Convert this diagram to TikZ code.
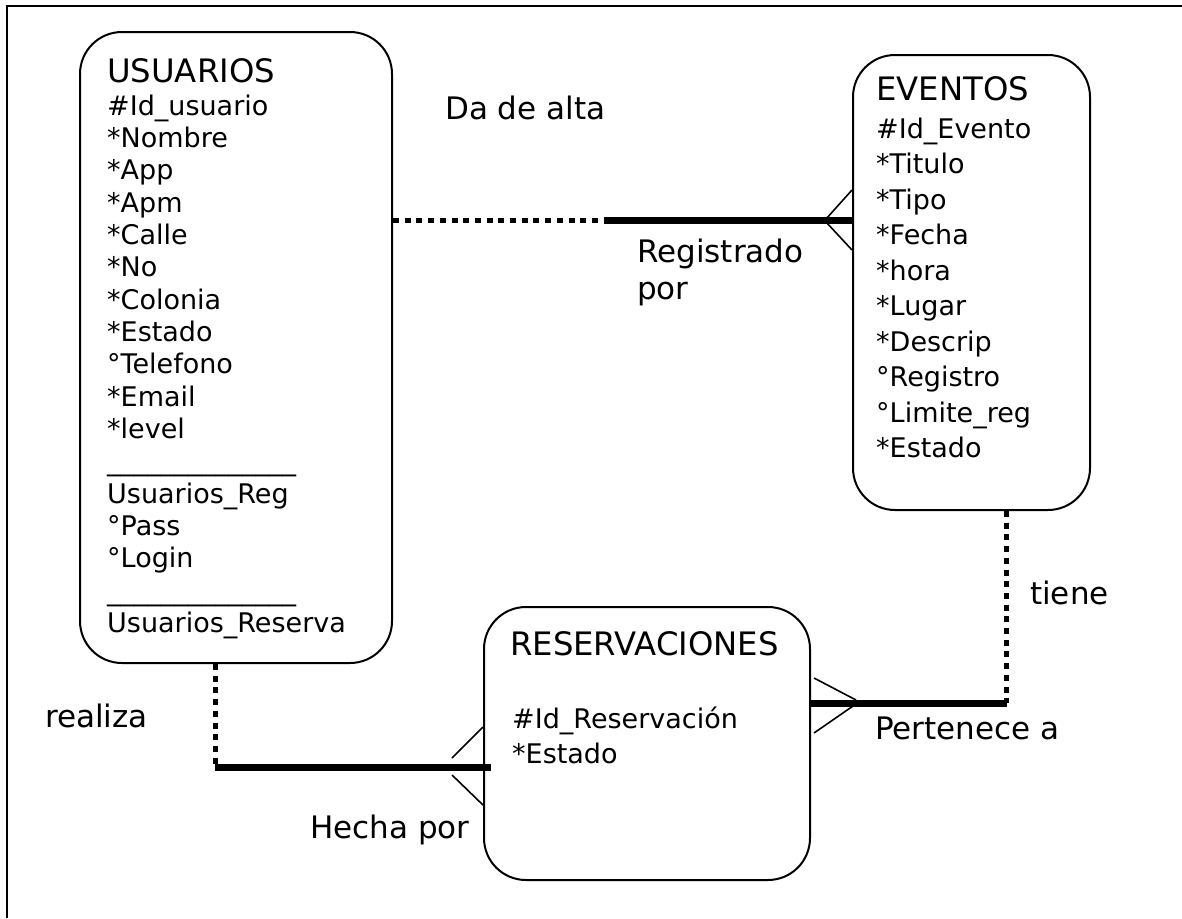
\documentclass[tikz,border=0pt]{standalone}
\usepackage{fontspec}
\setmainfont{DejaVu Sans}

\tikzset{
  entidad/.style={draw, line width=2pt, rounded corners=42pt, inner sep=0pt},
  titulo/.style={font=\fontsize{32.3}{38}\selectfont, inner sep=0pt, anchor=base west},
  attr/.style={font=\fontsize{27}{32.5}\selectfont, inner sep=0pt, anchor=base west},
  etiqueta/.style={font=\fontsize{31}{37}\selectfont, inner sep=0pt, anchor=base west, align=left},
  opcional/.style={line width=5pt, dash pattern=on 6pt off 5.7pt},
  obligatoria/.style={line width=7pt},
  pata/.style={line width=1.6pt}
}

\begin{document}
\begin{tikzpicture}[x=1pt, y=-1pt]
\useasboundingbox (0,0) rectangle (1182,918);
\draw[line width=2pt] (7,918) -- (7,6) -- (1182,6);

\node[entidad, minimum width=312pt, minimum height=631pt] (usuarios) at (236,347.5) {};
\node[entidad, minimum width=237pt, minimum height=455pt] (eventos) at (971.5,282.5) {};
\node[entidad, minimum width=326pt, minimum height=273pt] (reservaciones) at (647,743.5) {};

\node[titulo] (usuariosT) at (107,82) {USUARIOS};
\foreach \a [count=\i] in {\#Id\_usuario,*Nombre,*App,*Apm,*Calle,*No,*Colonia,*Estado,°Telefono,*Email,*level,\_\_\_\_\_\_\_\_\_\_\_\_\_\_,Usuarios\_Reg,°Pass,°Login,\_\_\_\_\_\_\_\_\_\_\_\_\_\_,Usuarios\_Reserva}
  \node[attr] (usuariosA\i) at (107,{115+32.35*(\i-1)}) {\a};

\node[titulo] (eventosT) at (876,100) {EVENTOS};
\foreach \a [count=\i] in {\#Id\_Evento,*Titulo,*Tipo,*Fecha,*hora,*Lugar,*Descrip,°Registro,°Limite\_reg,*Estado}
  \node[attr] (eventosA\i) at (876,{138+35.5*(\i-1)}) {\a};

\node[titulo] (reservacionesT) at (510,655) {RESERVACIONES};
\node[attr] (reservacionesA1) at (512,728) {\#Id\_Reservación};
\node[attr] (reservacionesA2) at (512,763) {*Estado};

\coordinate (r1) at (604,220);
\draw[opcional] (usuarios.east |- r1) -- (r1);
\draw[obligatoria] (r1) -- (eventos.west |- r1);
\draw[pata] (eventos.west |- r1) ++(0,-30) -- ++(-26,29) ++(0,3) -- ++(26,28);

\coordinate (r2) at (1006.5,703);
\draw[opcional] (eventos.south -| r2) -- (r2);
\draw[obligatoria] (r2) -- (reservaciones.east |- r2);
\draw[pata] (reservaciones.east |- r2) ++(3,-25) -- ++(42,22) ++(-3,6) -- ++(-39,27);

\coordinate (r3) at (215,767);
\draw[opcional] (usuarios.south -| r3) -- (r3);
\draw[obligatoria] (r3) -- ([xshift=8pt]reservaciones.west |- r3);
\draw[pata] (reservaciones.west |- r3) ++(0,-40) -- ++(-31,31) ++(0,17) -- ++(31,30);

\node[etiqueta] (daalta) at (445,119) {Da de alta};
\node[etiqueta] (registrado) at (637,299) {Registrado\\por};
\node[etiqueta] (tiene) at (1030,604) {tiene};
\node[etiqueta] (realiza) at (45,727) {realiza};
\node[etiqueta] (pertenece) at (875,739) {Pertenece a};
\node[etiqueta] (hecha) at (310,838) {Hecha por};
\end{tikzpicture}
\end{document}
